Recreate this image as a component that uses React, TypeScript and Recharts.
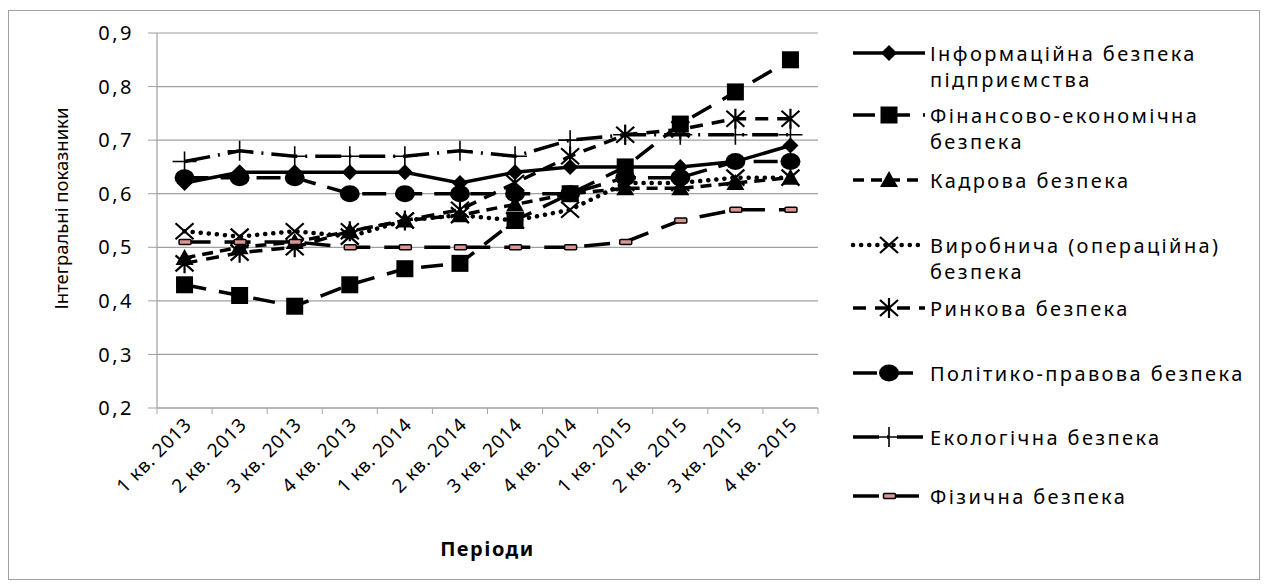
import React from 'react';
import { LineChart, Line, XAxis, YAxis, CartesianGrid, Legend } from 'recharts';

const periods = ['1 кв. 2013', '2 кв. 2013', '3 кв. 2013', '4 кв. 2013', '1 кв. 2014', '2 кв. 2014', '3 кв. 2014', '4 кв. 2014', '1 кв. 2015', '2 кв. 2015', '3 кв. 2015', '4 кв. 2015'];
const infoSec = [0.62, 0.64, 0.64, 0.64, 0.64, 0.62, 0.64, 0.65, 0.65, 0.65, 0.66, 0.69];
const finSec = [0.43, 0.41, 0.39, 0.43, 0.46, 0.47, 0.55, 0.60, 0.65, 0.73, 0.79, 0.85];
const staffSec = [0.48, 0.50, 0.51, 0.53, 0.55, 0.56, 0.58, 0.60, 0.61, 0.61, 0.62, 0.63];
const prodSec = [0.53, 0.52, 0.53, 0.52, 0.55, 0.56, 0.55, 0.57, 0.62, 0.62, 0.63, 0.63];
const marketSec = [0.47, 0.49, 0.50, 0.53, 0.55, 0.57, 0.62, 0.67, 0.71, 0.72, 0.74, 0.74];
const politSec = [0.63, 0.63, 0.63, 0.60, 0.60, 0.60, 0.60, 0.60, 0.63, 0.63, 0.66, 0.66];
const ecoSec = [0.66, 0.68, 0.67, 0.67, 0.67, 0.68, 0.67, 0.70, 0.71, 0.71, 0.71, 0.71];
const physSec = [0.51, 0.51, 0.51, 0.50, 0.50, 0.50, 0.50, 0.50, 0.51, 0.55, 0.57, 0.57];
const yTicks = [0.2, 0.3, 0.4, 0.5, 0.6, 0.7, 0.8, 0.9];

const seriesNames = [
  ['Інформаційна безпека', 'підприємства'],
  ['Фінансово-економічна', 'безпека'],
  ['Кадрова безпека'],
  ['Виробнича (операційна)', 'безпека'],
  ['Ринкова безпека'],
  ['Політико-правова безпека'],
  ['Екологічна безпека'],
  ['Фізична безпека'],
];

const data = periods.map((p, i) => ({
  period: p,
  s0: infoSec[i],
  s1: finSec[i],
  s2: staffSec[i],
  s3: prodSec[i],
  s4: marketSec[i],
  s5: politSec[i],
  s6: ecoSec[i],
  s7: physSec[i],
}));

const FONT = '"Noto Sans", "DejaVu Sans", sans-serif';

const styles = [
  { marker: 'diamond', dash: undefined, width: 3.5 },
  { marker: 'square', dash: '22 13', width: 3.5 },
  { marker: 'triangle', dash: '11 7', width: 3.5 },
  { marker: 'x', dash: '0.1 8', width: 4.5, cap: 'round' },
  { marker: 'star', dash: '13 9', width: 3.5 },
  { marker: 'circle', dash: '24 12', width: 3.5 },
  { marker: 'plus', dash: '26 8 2 8', width: 3.5 },
  { marker: 'rect', dash: '26 14', width: 3.5 },
];

function Marker({ kind, cx, cy }: { kind: string; cx: number; cy: number }) {
  switch (kind) {
    case 'diamond':
      return <polygon points={`${cx},${cy - 8} ${cx + 8},${cy} ${cx},${cy + 8} ${cx - 8},${cy}`} fill="#000" />;
    case 'square':
      return <rect x={cx - 8.5} y={cy - 8.5} width={17} height={17} fill="#000" />;
    case 'triangle':
      return <polygon points={`${cx},${cy - 9} ${cx + 9},${cy + 7} ${cx - 9},${cy + 7}`} fill="#000" />;
    case 'x':
      return <path d={`M${cx - 9},${cy - 8}L${cx + 9},${cy + 8}M${cx + 9},${cy - 8}L${cx - 9},${cy + 8}`} stroke="#000" strokeWidth={2.2} fill="none" />;
    case 'star':
      return <path d={`M${cx - 9},${cy - 8}L${cx + 9},${cy + 8}M${cx + 9},${cy - 8}L${cx - 9},${cy + 8}M${cx},${cy - 10}L${cx},${cy + 10}`} stroke="#000" strokeWidth={2.2} fill="none" />;
    case 'circle':
      return <ellipse cx={cx} cy={cy} rx={10} ry={8.5} fill="#000" />;
    case 'plus':
      return <path d={`M${cx - 12},${cy}L${cx + 12},${cy}M${cx},${cy - 10}L${cx},${cy + 10}`} stroke="#000" strokeWidth={1.6} fill="none" />;
    case 'rect':
      return <rect x={cx - 5.5} y={cy - 2.5} width={12} height={5} rx={1} fill="#d99694" stroke="#000" strokeWidth={1.5} />;
    default:
      return null;
  }
}

function XTick(props: any) {
  const { x, y, payload, index, visibleTicksCount } = props;
  const half = payload.offset || 0;
  const isLast = index === visibleTicksCount - 1;
  return (
    <g>
      <line x1={x - half} y1={y - 8} x2={x - half} y2={y - 2} stroke="#a6a6a6" strokeWidth={1} />
      {isLast && <line x1={x + half} y1={y - 8} x2={x + half} y2={y - 2} stroke="#a6a6a6" strokeWidth={1} />}
      <text
        x={x + 8}
        y={y + 10}
        transform={`rotate(-45, ${x + 8}, ${y + 10})`}
        textAnchor="end"
        fontFamily={FONT}
        fontSize={19}
        letterSpacing={0.6}
        fill="#000"
      >
        {payload.value}
      </text>
    </g>
  );
}

const legendYs = [42, 104, 169, 234, 297, 362, 426, 485];

function LegendContent() {
  return (
    <svg width={420} height={540} style={{ overflow: 'visible' }}>
      {styles.map((s, i) => {
        const y = legendYs[i];
        return (
          <g key={i}>
            <line x1={4} y1={y} x2={76} y2={y} stroke="#000" strokeWidth={s.width} strokeDasharray={s.dash} strokeLinecap={(s as any).cap || 'butt'} />
            <Marker kind={s.marker} cx={40} cy={y} />
            {seriesNames[i].map((t, j) => (
              <text key={j} x={81} y={y + j * 26} dominantBaseline="central" fontFamily={FONT} fontSize={20} letterSpacing={2.4} fill="#000">
                {t}
              </text>
            ))}
          </g>
        );
      })}
    </svg>
  );
}

export default function App() {
  return (
    <div style={{ position: 'absolute', left: 8, top: 10, width: 1252, height: 570, border: '1px solid #a0a0a0', boxSizing: 'border-box', background: '#fff' }}>
      <LineChart width={1250} height={568} data={data} margin={{ top: 22, right: 441, left: 88, bottom: 41 }}>
        <CartesianGrid vertical={false} stroke="#a0a0a0" strokeWidth={1.2} />
        <XAxis
          dataKey="period"
          scale="band"
          interval={0}
          height={130}
          tickLine={false}
          axisLine={{ stroke: '#a0a0a0', strokeWidth: 1.2 }}
          tick={<XTick />}
          label={{
            content: (p: any) => {
              const vb = p.viewBox;
              return (
                <text x={vb.x + vb.width / 2} y={vb.y + 140} textAnchor="middle" dominantBaseline="central" fontFamily={FONT} fontSize={20} fontWeight="bold" letterSpacing={1.5} fill="#000">
                  Періоди
                </text>
              );
            },
          }}
        />
        <XAxis xAxisId="top" dataKey="period" orientation="top" height={0} tick={false} tickLine={false} axisLine={{ stroke: '#000', strokeWidth: 1.2 }} />
        <YAxis
          type="number"
          domain={[0.2, 0.9]}
          ticks={yTicks}
          allowDataOverflow
          width={60}
          tickSize={9}
          tickMargin={14}
          tickLine={{ stroke: '#a0a0a0' }}
          axisLine={{ stroke: '#a0a0a0', strokeWidth: 1.2 }}
          tickFormatter={(v: number) => v.toFixed(1).replace('.', ',')}
          tick={{ fontFamily: FONT, fontSize: 20, fill: '#000', letterSpacing: 2.5 }}
          label={{
            content: (p: any) => {
              const vb = p.viewBox;
              const cx = vb.x - 37;
              const cy = vb.y + vb.height / 2 - 12;
              return (
                <text x={cx} y={cy} transform={`rotate(-90, ${cx}, ${cy})`} textAnchor="middle" dominantBaseline="central" fontFamily={FONT} fontSize={18.5} fill="#000">
                  Інтегральні показники
                </text>
              );
            },
          }}
        />
        <YAxis yAxisId="right" orientation="right" domain={[0.2, 0.9]} width={0} tick={false} tickLine={false} axisLine={{ stroke: '#000', strokeWidth: 1.2 }} />
        <Legend
          layout="vertical"
          align="center"
          verticalAlign="middle"
          wrapperStyle={{ left: 840, top: 0, width: 420, height: 540 }}
          content={() => <LegendContent />}
        />
        {styles.map((s, i) => (
          <Line
            key={i}
            type="linear"
            dataKey={`s${i}`}
            name={seriesNames[i].join(' ')}
            stroke="#000"
            strokeWidth={s.width}
            strokeDasharray={s.dash}
            strokeLinecap={(s as any).cap || 'butt'}
            isAnimationActive={false}
            activeDot={false}
            dot={(p: any) => <Marker key={`d${i}-${p.index}`} kind={s.marker} cx={p.cx} cy={p.cy} />}
          />
        ))}
      </LineChart>
    </div>
  );
}
